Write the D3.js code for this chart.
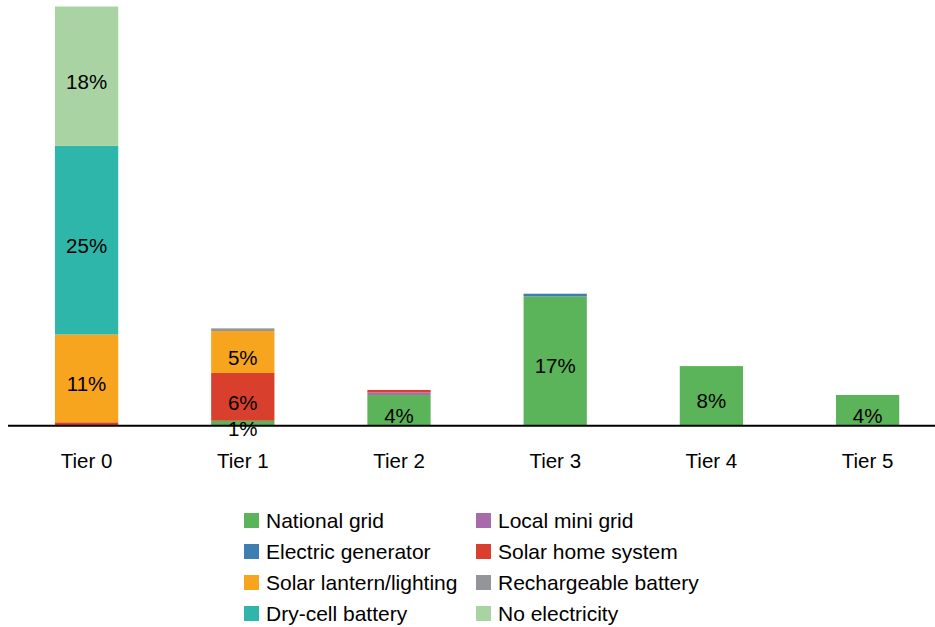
<!DOCTYPE html>
<html>
<head>
<meta charset="utf-8">
<script src="https://cdn.jsdelivr.net/npm/d3@7"></script>
<style>
  html, body { margin: 0; padding: 0; background: #fff; }
  svg { display: block; font-family: "Liberation Sans", Arial, Helvetica, sans-serif; }
</style>
</head>
<body>
<svg id="chart" width="935" height="627"></svg>
<script>
// Tiers of electricity access
const tiers = ["Tier 0", "Tier 1", "Tier 2", "Tier 3", "Tier 4", "Tier 5"];

// Main source of lighting, share of households (%) per tier, stacked bottom to top
const nationalGrid        = [0,     0.55, 3.9,  16.7, 7.65, 3.9];
const localMiniGrid       = [0,     0,    0.35, 0,    0,    0];
const electricGenerator   = [0,     0,    0,    0.35, 0,    0];
const solarHomeSystem     = [0.35,  6.2,  0.3,  0,    0,    0];
const solarLantern        = [11.4,  5.45, 0,    0,    0,    0];
const rechargeableBattery = [0,     0.35, 0,    0,    0,    0];
const dryCellBattery      = [24.5,  0,    0,    0,    0,    0];
const noElectricity       = [18.1,  0,    0,    0,    0,    0];

const seriesNames = [
  "National grid", "Local mini grid", "Electric generator", "Solar home system",
  "Solar lantern/lighting", "Rechargeable battery", "Dry-cell battery", "No electricity"
];
const seriesValues = [
  nationalGrid, localMiniGrid, electricGenerator, solarHomeSystem,
  solarLantern, rechargeableBattery, dryCellBattery, noElectricity
];
const seriesColors = [
  "#5bb35a", "#a66baa", "#3f7eb1", "#d83f2d",
  "#f7a51f", "#939598", "#2db6a9", "#a9d3a2"
];

// Legend layout: two columns, read row by row
const legendOrder = [
  "National grid", "Local mini grid",
  "Electric generator", "Solar home system",
  "Solar lantern/lighting", "Rechargeable battery",
  "Dry-cell battery", "No electricity"
];

const rows = tiers.map((t, i) => {
  const r = { tier: t };
  seriesNames.forEach((s, j) => { r[s] = seriesValues[j][i]; });
  return r;
});

const svg = d3.select("#chart");
const labelFont = 20.5;
const legendFont = 21;

const x = d3.scaleBand()
  .domain(tiers)
  .range([8.5, 8.5 + 6 * 156.2])
  .paddingInner(0.595)
  .paddingOuter(0.2975);

const y = d3.scaleLinear().domain([0, 55]).range([425, 1.5]);

const color = d3.scaleOrdinal().domain(seriesNames).range(seriesColors);

const stacked = d3.stack().keys(seriesNames)(rows);

const layers = svg.append("g").attr("class", "bars")
  .selectAll("g")
  .data(stacked)
  .join("g")
  .attr("fill", d => color(d.key));

layers.selectAll("rect")
  .data(d => d)
  .join("rect")
  .attr("x", d => x(d.data.tier))
  .attr("width", x.bandwidth())
  .attr("y", d => y(d[1]))
  .attr("height", d => y(d[0]) - y(d[1]));

// Axis line (no ticks) with tier labels below
const axis = d3.axisBottom(x).tickSize(0).tickPadding(0);
const gx = svg.append("g")
  .attr("transform", "translate(0,425.7)")
  .call(axis);
gx.select(".domain").remove();
gx.selectAll("text")
  .attr("font-size", labelFont)
  .attr("font-family", "Liberation Sans, Arial, Helvetica, sans-serif")
  .attr("fill", "#000")
  .attr("dy", null)
  .attr("y", 42.5);

svg.append("line")
  .attr("x1", 8).attr("x2", 935)
  .attr("y1", 425.7).attr("y2", 425.7)
  .attr("stroke", "#000")
  .attr("stroke-width", 2);

// Value labels on segments that round to at least 1%
const labels = [];
stacked.forEach(layer => {
  layer.forEach(d => {
    const v = d[1] - d[0];
    if (Math.round(v) >= 1) labels.push({ tier: d.data.tier, y0: d[0], y1: d[1], v });
  });
});

svg.append("g").attr("class", "labels")
  .selectAll("text")
  .data(labels)
  .join("text")
  .attr("x", d => x(d.tier) + x.bandwidth() / 2)
  .attr("y", d => (y(d.y0) + y(d.y1)) / 2 + 5.5)
  .attr("dy", "0.35em")
  .attr("text-anchor", "middle")
  .attr("font-size", labelFont)
  .attr("fill", "#000")
  .text(d => Math.round(d.v) + "%");

// Legend
const legend = svg.append("g").attr("class", "legend");
const colX = [244, 476];
const rowY = 513, rowStep = 31;
legendOrder.forEach((name, i) => {
  const cx = colX[i % 2];
  const cy = rowY + Math.floor(i / 2) * rowStep;
  const g = legend.append("g").attr("transform", `translate(${cx},${cy})`);
  g.append("rect").attr("width", 15).attr("height", 15).attr("fill", color(name));
  g.append("text")
    .attr("x", 22)
    .attr("y", 14.5)
    .attr("font-size", legendFont)
    .attr("fill", "#000")
    .text(name);
});
</script>
</body>
</html>
